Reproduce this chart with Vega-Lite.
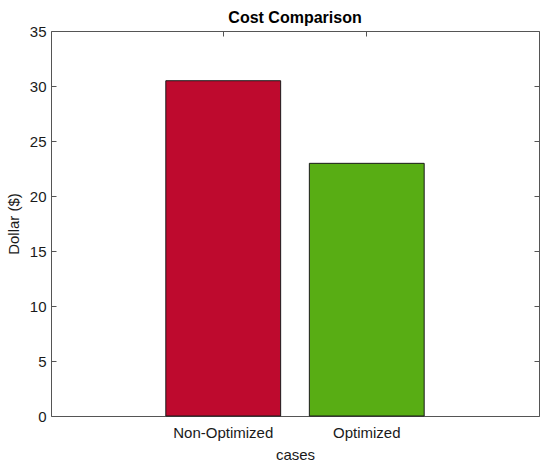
{
  "$schema": "https://vega.github.io/schema/vega-lite/v6.json",
  "width": 488,
  "height": 385,
  "autosize": {"type": "none"},
  "padding": {"left": 51, "top": 31, "right": 11, "bottom": 54},
  "background": "white",
  "title": {
    "text": "Cost Comparison",
    "font": "Liberation Sans",
    "fontSize": 16,
    "fontWeight": "bold",
    "color": "#000000",
    "anchor": "middle",
    "offset": -2
  },
  "data": {
    "values": [
      {"case": "Non-Optimized", "cost": 30.48},
      {"case": "Optimized", "cost": 22.97}
    ]
  },
  "layer": [
    {
      "mark": {"type": "bar", "stroke": "#1a1a1a", "strokeWidth": 1},
      "encoding": {
        "x": {
          "field": "case",
          "type": "nominal",
          "sort": null,
          "scale": {"paddingInner": 0.2, "paddingOuter": 0.8},
          "axis": {"title": "cases", "labelAngle": 0, "orient": "bottom", "labelPadding": 14, "titlePadding": 7}
        },
        "y": {
          "field": "cost",
          "type": "quantitative",
          "scale": {"domain": [0, 35], "nice": false},
          "axis": {"title": "Dollar ($)", "values": [0, 5, 10, 15, 20, 25, 30, 35], "orient": "left", "labelPadding": 10, "titlePadding": 8}
        },
        "color": {
          "field": "case",
          "type": "nominal",
          "scale": {"domain": ["Non-Optimized", "Optimized"], "range": ["#be0a2e", "#58ad14"]},
          "legend": null
        }
      }
    },
    {
      "mark": {"type": "bar", "opacity": 0},
      "encoding": {
        "x": {
          "field": "case",
          "type": "nominal",
          "sort": null,
          "axis": {"orient": "top", "title": null, "labels": false}
        },
        "y": {
          "field": "cost",
          "type": "quantitative",
          "axis": {"orient": "right", "title": null, "labels": false, "values": [0, 5, 10, 15, 20, 25, 30, 35]}
        }
      }
    }
  ],
  "resolve": {"axis": {"x": "independent", "y": "independent"}},
  "config": {
    "view": {"stroke": null},
    "axis": {
      "grid": false,
      "domainColor": "#555555",
      "domainWidth": 1,
      "tickColor": "#555555",
      "tickSize": -5,
      "labelFont": "Liberation Sans",
      "labelFontSize": 15,
      "labelColor": "#1a1a1a",
      "labelPadding": 6,
      "titleFont": "Liberation Sans",
      "titleFontSize": 15,
      "titleFontWeight": "normal",
      "titleColor": "#1a1a1a"
    }
  }
}
